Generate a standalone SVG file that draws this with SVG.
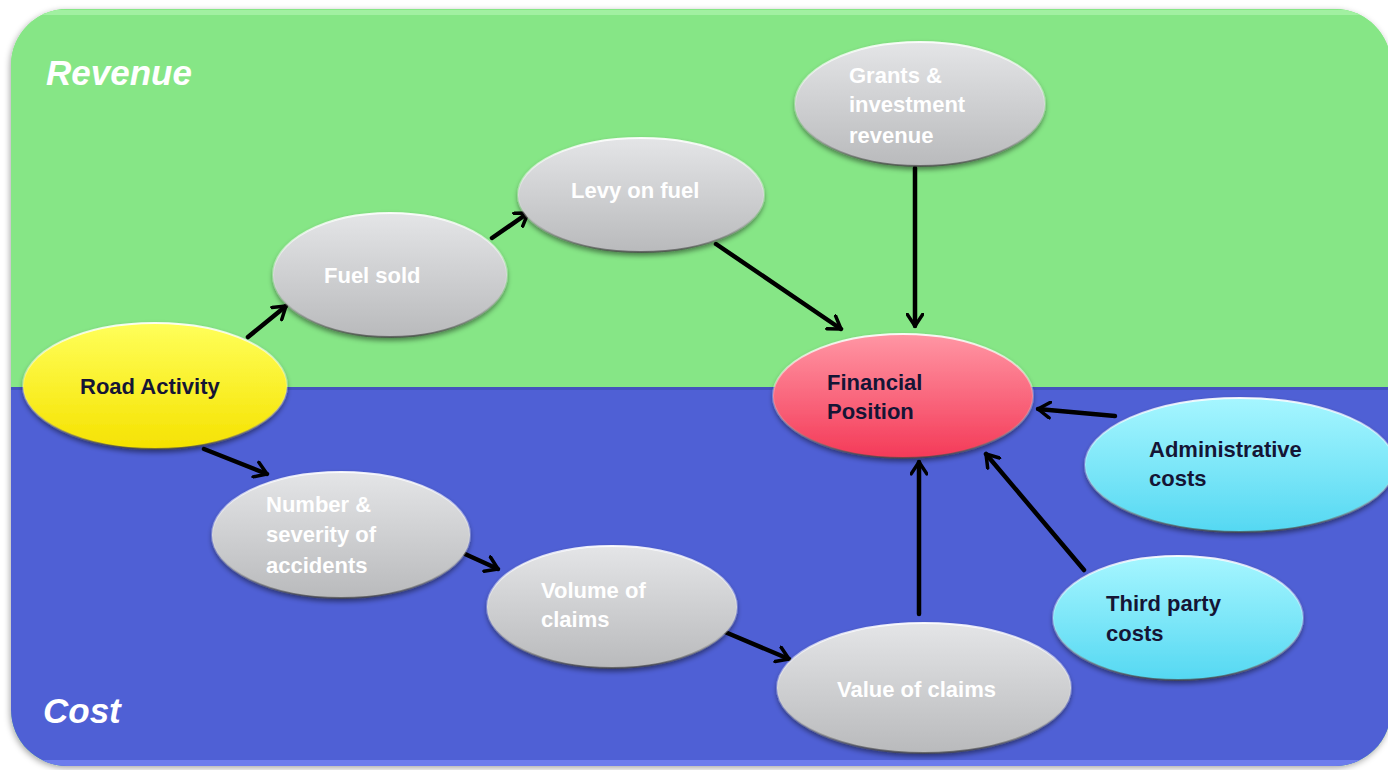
<svg xmlns="http://www.w3.org/2000/svg" width="1388" height="770" viewBox="0 0 1388 770">
  <defs>
    <style>
      .lbl { font-family: "Liberation Sans", Arial, sans-serif; font-weight: bold; font-size: 22px; }
      .light { fill: #ffffff; }
      .dark { fill: #151535; }
      .zone { font-family: "Liberation Sans", Arial, sans-serif; font-weight: bold; font-style: italic; font-size: 35px; fill: #ffffff; }
      .conn { stroke: #000000; stroke-width: 4.5; fill: none; stroke-linecap: round; marker-end: url(#chev); }
      .node { filter: url(#shadow); stroke-width: 2; stroke: url(#rim); }
    </style>
    <marker id="chev" viewBox="0 0 12 14" refX="10" refY="7" markerWidth="3.6" markerHeight="4.2" orient="auto" markerUnits="strokeWidth">
      <path d="M1.2,1.2 L10,7 L1.2,12.8" fill="none" stroke="#000" stroke-width="2.6" stroke-linecap="round" stroke-linejoin="round"/>
    </marker>
    <filter id="shadow" x="-10%" y="-15%" width="120%" height="140%">
      <feDropShadow dx="0" dy="3" stdDeviation="2.5" flood-color="#000" flood-opacity="0.45"/>
    </filter>
    <filter id="panelShadow" x="-5%" y="-5%" width="110%" height="110%">
      <feDropShadow dx="-1" dy="2" stdDeviation="3" flood-color="#000" flood-opacity="0.35"/>
    </filter>
    <linearGradient id="rim" x1="0" y1="0" x2="0" y2="1">
      <stop offset="0" stop-color="#ffffff" stop-opacity="0.9"/>
      <stop offset="0.5" stop-color="#ffffff" stop-opacity="0.2"/>
      <stop offset="1" stop-color="#444444" stop-opacity="0.7"/>
    </linearGradient>
    <linearGradient id="gray" x1="0" y1="0" x2="0" y2="1">
      <stop offset="0" stop-color="#e4e5e7"/>
      <stop offset="1" stop-color="#b9babc"/>
    </linearGradient>
    <linearGradient id="yellow" x1="0" y1="0" x2="0" y2="1">
      <stop offset="0" stop-color="#ffff5a"/>
      <stop offset="1" stop-color="#f5e200"/>
    </linearGradient>
    <linearGradient id="red" x1="0" y1="0" x2="0" y2="1">
      <stop offset="0" stop-color="#ff96a4"/>
      <stop offset="1" stop-color="#f43a58"/>
    </linearGradient>
    <linearGradient id="cyan" x1="0" y1="0" x2="0" y2="1">
      <stop offset="0" stop-color="#a6f6ff"/>
      <stop offset="1" stop-color="#55d8f2"/>
    </linearGradient>
    <clipPath id="panelClip">
      <rect x="11" y="9" width="1380" height="757" rx="56" ry="56"/>
    </clipPath>
  </defs>

  <!-- background panel: revenue band above, cost band below -->
  <g id="panel">
    <rect x="11" y="9" width="1380" height="757" rx="56" ry="56" fill="#86e686" filter="url(#panelShadow)"/>
    <g clip-path="url(#panelClip)">
      <rect x="0" y="0" width="1400" height="387" fill="#86e686"/>
      <rect x="0" y="10" width="1400" height="5" fill="#a8f2a8" opacity="0.8"/>
      <rect x="0" y="387" width="1400" height="390" fill="#4f60d5"/>
      <rect x="0" y="387" width="1400" height="3" fill="#3c4bb0" opacity="0.6"/>
      <rect x="0" y="760" width="1400" height="6" fill="#6f80f0" opacity="0.9"/>
    </g>
    <text class="zone" x="46" y="85">Revenue</text>
    <text class="zone" x="43" y="723">Cost</text>
  </g>

  <!-- connectors -->
  <g id="connectors">
    <line class="conn" x1="248" y1="337" x2="286" y2="306"/>
    <line class="conn" x1="492" y1="238" x2="528" y2="213"/>
    <line class="conn" x1="716" y1="244" x2="841" y2="329"/>
    <line class="conn" x1="915" y1="168" x2="915" y2="326"/>
    <line class="conn" x1="1115" y1="416" x2="1038" y2="409"/>
    <line class="conn" x1="1084" y1="570" x2="986" y2="454"/>
    <line class="conn" x1="919" y1="614" x2="919" y2="462"/>
    <line class="conn" x1="204" y1="449" x2="267" y2="474"/>
    <line class="conn" x1="465" y1="554" x2="498" y2="569"/>
    <line class="conn" x1="725" y1="632" x2="789" y2="659"/>
  </g>

  <g id="road-activity">
    <ellipse class="node" cx="155" cy="386" rx="132" ry="63" fill="url(#yellow)"/>
    <text class="lbl dark" x="80" y="394">Road Activity</text>
  </g>

  <g id="fuel-sold">
    <ellipse class="node" cx="390" cy="275" rx="117" ry="62" fill="url(#gray)"/>
    <text class="lbl light" x="324" y="283">Fuel sold</text>
  </g>

  <g id="levy-on-fuel">
    <ellipse class="node" cx="641" cy="195" rx="123" ry="57" fill="url(#gray)"/>
    <text class="lbl light" x="571" y="198">Levy on fuel</text>
  </g>

  <g id="grants">
    <ellipse class="node" cx="920" cy="104" rx="125" ry="62" fill="url(#gray)"/>
    <text class="lbl light" x="849" y="83">Grants &amp;</text>
    <text class="lbl light" x="849" y="112">investment</text>
    <text class="lbl light" x="849" y="143">revenue</text>
  </g>

  <g id="financial-position">
    <ellipse class="node" cx="903" cy="396" rx="130" ry="62" fill="url(#red)"/>
    <text class="lbl dark" x="827" y="390">Financial</text>
    <text class="lbl dark" x="827" y="419">Position</text>
  </g>

  <g id="administrative-costs">
    <ellipse class="node" cx="1240" cy="465" rx="155" ry="67" fill="url(#cyan)"/>
    <text class="lbl dark" x="1149" y="457">Administrative</text>
    <text class="lbl dark" x="1149" y="486">costs</text>
  </g>

  <g id="third-party-costs">
    <ellipse class="node" cx="1178" cy="618" rx="125" ry="62" fill="url(#cyan)"/>
    <text class="lbl dark" x="1106" y="611">Third party</text>
    <text class="lbl dark" x="1106" y="641">costs</text>
  </g>

  <g id="accidents">
    <ellipse class="node" cx="341" cy="535" rx="129" ry="63" fill="url(#gray)"/>
    <text class="lbl light" x="266" y="512">Number &amp;</text>
    <text class="lbl light" x="266" y="542">severity of</text>
    <text class="lbl light" x="266" y="573">accidents</text>
  </g>

  <g id="volume-of-claims">
    <ellipse class="node" cx="612" cy="607" rx="125" ry="61" fill="url(#gray)"/>
    <text class="lbl light" x="541" y="598">Volume of</text>
    <text class="lbl light" x="541" y="627">claims</text>
  </g>

  <g id="value-of-claims">
    <ellipse class="node" cx="924" cy="688" rx="147" ry="65" fill="url(#gray)"/>
    <text class="lbl light" x="837" y="697">Value of claims</text>
  </g>
</svg>
